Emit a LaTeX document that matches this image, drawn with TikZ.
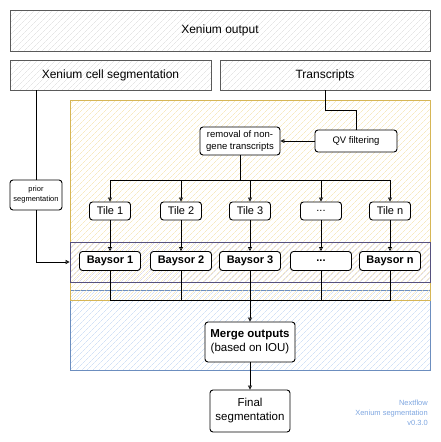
\documentclass[tikz,border=0pt]{standalone}
\usepackage{fontspec}
\setsansfont{Liberation Sans}
\usetikzlibrary{arrows.meta,patterns.meta}
\definecolor{inputgrey}{HTML}{5A5A5A}
\definecolor{hatchgrey}{HTML}{D8D8D8}
\definecolor{prepline}{HTML}{D6B656}
\definecolor{prephatch}{HTML}{F3DFA0}
\definecolor{segline}{HTML}{56517E}
\definecolor{seghatch}{HTML}{C9C5E0}
\definecolor{mergeline}{HTML}{6C8EBF}
\definecolor{mergehatch}{HTML}{BCD3F2}
\definecolor{footblue}{HTML}{7EA6E0}
\tikzset{
  >={Triangle[open,width=4pt,length=4pt]},
  % Specifications for style of nodes:
        base/.style = {rectangle, draw=black, line width=0.9pt, fill=white,
                       rounded corners=3pt, inner sep=1pt, align=center,
                       font=\sffamily\fontsize{11}{13}\selectfont},
       input/.style = {rectangle, draw=inputgrey, line width=0.7pt, inner sep=1pt,
                       pattern={Lines[angle=45,distance=4pt,line width=0.4pt]},
                       pattern color=hatchgrey,
                       font=\sffamily\fontsize{12}{14}\selectfont},
     process/.style = {base, font=\sffamily\fontsize{11.5}{14}\selectfont},
   smallstep/.style = {base, font=\sffamily\fontsize{9.5}{11.5}\selectfont},
        tile/.style = {base, minimum width=41pt, minimum height=18pt},
      baysor/.style = {base, minimum width=61pt, minimum height=19pt,
                       font=\sffamily\bfseries\fontsize{11}{13}\selectfont},
   container/.style = {rectangle, line width=0.7pt, inner sep=0pt,
                       minimum width=360pt,
                       pattern={Lines[angle=45,distance=4pt,line width=0.4pt]}},
}

\begin{document}
\begin{tikzpicture}[x=1pt, y=-1pt, node distance=50pt]
    \useasboundingbox (0,0) rectangle (441,442);

    % Background groups
    \node (mergebox) [container, draw=mergeline, pattern color=mergehatch,
                      minimum height=80pt]  at (250,330) {};
    \node (prepbox)  [container, draw=prepline, pattern color=prephatch,
                      minimum height=200pt] at (250,200) {};
    \node (baysorbox)[container, draw=segline, pattern color=seghatch,
                      minimum height=40pt]  at (250,262) {};

    % Specification of nodes (position, etc.)
    \node (xout)        [input, minimum width=420pt, minimum height=41pt]
                                                  at (220,30.5) {Xenium output};
    \node (cellseg)     [input, minimum width=201pt, minimum height=30pt]
                                      at (110.5,75) {Xenium cell segmentation};
    \node (transcripts) [input, minimum width=210pt, minimum height=30pt]
                                                    at (325,75) {Transcripts};
    \node (removal)     [smallstep, minimum width=80pt, minimum height=28pt]
                                at (240,141) {removal of non-\\gene transcripts};
    \node (qv)          [smallstep, minimum width=82pt, minimum height=22pt]
                                                    at (356,141) {QV filtering};
    \node (prior)       [base, minimum width=52pt, minimum height=30pt,
                         font=\sffamily\fontsize{7.5}{10}\selectfont]
                                             at (36,195) {prior\\segmentation};

    \node (tile1) [tile] at (110,211) {Tile 1};
    \node (tile2) [tile] at (181,211) {Tile 2};
    \node (tile3) [tile] at (250,211) {Tile 3};
    \node (tile4) [tile] at (321,211) {...};
    \node (tile5) [tile] at (390,211) {Tile n};

    \node (baysor1) [baysor, below of=tile1] {Baysor 1};
    \node (baysor2) [baysor, below of=tile2] {Baysor 2};
    \node (baysor3) [baysor, below of=tile3] {Baysor 3};
    \node (baysor4) [baysor, below of=tile4] {...};
    \node (baysor5) [baysor, below of=tile5] {Baysor n};

    \node (merge) [process, minimum width=90pt, minimum height=40pt,
                   below of=baysor3, yshift=-31pt]
                   {\textbf{Merge outputs}\\(based on IOU)};
    \node (final) [process, minimum width=80pt, minimum height=42pt,
                   below of=merge, yshift=-19pt] {Final\\segmentation};

    \node (footer) [anchor=east, align=right, text=footblue, inner sep=0pt,
                    font=\sffamily\fontsize{7.5}{10}\selectfont]
                    at (428,413) {Nextflow\\Xenium segmentation\\v0.3.0};

    \coordinate (split) at (240,180);
    \coordinate (join)  at (250,300);

    % Specification of lines between nodes specified above
    \draw[line width=0.8pt]     (cellseg.south -| prior) -- (prior);
    \draw[->, line width=0.8pt] (prior.south) |- (baysorbox.west);
    \draw[line width=0.8pt]     (transcripts.south) -- ++(0,20) -| (qv);
    \draw[->, line width=0.8pt] (qv) -- (removal);
    \draw[line width=0.8pt]     (removal) -- (split);
    \foreach \i in {1,...,5}{
      \draw[->, line width=0.8pt] (split) -| (tile\i);
      \draw[->, line width=0.8pt] (tile\i) -- (baysor\i);
      \draw[line width=0.8pt]     (baysor\i) |- (join);
    }
    \draw[->, line width=0.8pt] (baysor3) -- (merge);
    \draw[->, line width=0.8pt] (merge) -- (final);

  \end{tikzpicture}
\end{document}
